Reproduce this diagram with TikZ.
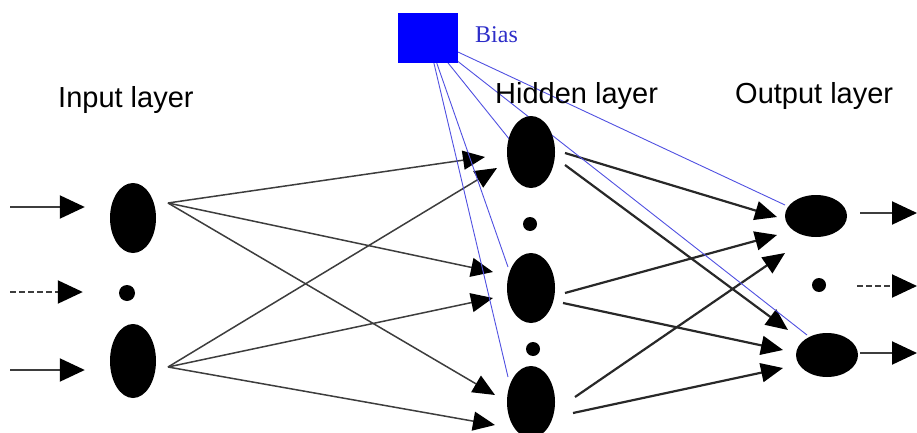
\documentclass[tikz,border=0pt]{standalone}
\usepackage{fontspec}
\setmainfont{Liberation Sans}
\newfontfamily\biasfont{Liberation Serif}
\usetikzlibrary{arrows.meta,shapes.geometric,backgrounds}
\definecolor{BiasBlue}{RGB}{0,0,255}
\definecolor{BiasText}{RGB}{45,45,200}
\definecolor{BiasLine}{RGB}{80,80,225}
\definecolor{LinkGray}{RGB}{40,40,40}

\begin{document}
\begin{tikzpicture}[x=1pt, y=-1pt,
neuron/.style={ellipse, fill=black, inner sep=0pt},
dotnode/.style={circle, fill=black, inner sep=0pt, minimum size=14pt},
layerlabel/.style={anchor=base west, inner sep=0pt, font=\fontsize{29}{34}\selectfont},
link/.style={-{Triangle[length=22pt,width=19pt,black]}, line width=2.2pt, draw=LinkGray},
thinlink/.style={link, line width=1.5pt, draw=LinkGray!90},
ioarr/.style={-{Triangle[length=25pt,width=23pt,black]}, line width=2pt, draw=LinkGray!90},
biasline/.style={draw=BiasLine, line width=0.9pt}
]
\useasboundingbox (0,0) rectangle (917,433);

\node[neuron, minimum width=46pt, minimum height=70pt] (in1) at (133,218) {};
\node[dotnode, minimum size=16pt] (indot) at (127,293) {};
\node[neuron, minimum width=46pt, minimum height=74pt] (in2) at (133,361) {};

\node[neuron, minimum width=48pt, minimum height=72pt] (h1) at (531,152) {};
\node[dotnode] (hdot1) at (530,224) {};
\node[neuron, minimum width=48pt, minimum height=70pt] (h2) at (531,288) {};
\node[dotnode] (hdot2) at (533,349) {};
\node[neuron, minimum width=48pt, minimum height=72pt] (h3) at (531,402) {};

\node[neuron, minimum width=62pt, minimum height=42pt] (o1) at (816,216) {};
\node[dotnode] (odot) at (819,285) {};
\node[neuron, minimum width=62pt, minimum height=44pt] (o2) at (827,355) {};

\node[fill=BiasBlue, minimum width=60pt, minimum height=50pt, inner sep=0pt] (bias) at (428,38) {};
\node[anchor=base west, inner sep=0pt, text=BiasText, font=\biasfont\fontsize{24}{28}\selectfont] (biaslabel) at (475,43) {Bias};

\node[layerlabel] (inlabel) at (58,108) {Input layer};
\node[layerlabel] (hidlabel) at (495,103) {Hidden layer};
\node[layerlabel] (outlabel) at (735,103) {Output layer};

\coordinate (x1) at (10,207);
\coordinate (x2) at (10,292);
\coordinate (x3) at (10,370);
\coordinate (y1) at (917,213);
\coordinate (y2) at (917,286);
\coordinate (y3) at (917,353);

\begin{scope}[on background layer]
\draw[ioarr, shorten >=25pt] (x1) -- (x1 -| in1.west);
\draw[ioarr, dashed, dash pattern=on 6pt off 3pt, shorten >=36pt] (x2) -- (x2 -| indot.west);
\draw[ioarr, shorten >=25pt] (x3) -- (x3 -| in2.west);

\draw[thinlink] ([xshift=35pt,yshift=15pt]in1.center) -- ([xshift=-46pt,yshift=-5pt]h1.center);
\draw[thinlink] ([xshift=35pt,yshift=15pt]in1.center) -- ([xshift=-38pt,yshift=16pt]h2.center);
\draw[thinlink] ([xshift=35pt,yshift=15pt]in1.center) -- ([xshift=-36pt,yshift=7pt]h3.center);
\draw[thinlink] ([xshift=35pt,yshift=-6pt]in2.center) -- ([xshift=-34pt,yshift=-16pt]h1.center);
\draw[thinlink] ([xshift=35pt,yshift=-6pt]in2.center) -- ([xshift=-38pt,yshift=-10pt]h2.center);
\draw[thinlink] ([xshift=35pt,yshift=-6pt]in2.center) -- ([xshift=-36pt,yshift=-23pt]h3.center);

\draw[link] ([xshift=34pt,yshift=-1pt]h1.center) -- ([xshift=-39pt,yshift=-1pt]o1.center);
\draw[link] ([xshift=34pt,yshift=-13pt]h1.center) -- ([xshift=-39pt,yshift=25pt]o2.center);
\draw[link] ([xshift=34pt,yshift=-5pt]h2.center) -- ([xshift=-39pt,yshift=-19pt]o1.center);
\draw[link] ([xshift=32pt,yshift=-15pt]h2.center) -- ([xshift=-44pt,yshift=5pt]o2.center);
\draw[link] ([xshift=44pt,yshift=5pt]h3.center) -- ([xshift=-31pt,yshift=-37pt]o1.center);
\draw[link] ([xshift=42pt,yshift=-11pt]h3.center) -- ([xshift=-44pt,yshift=-13pt]o2.center);

\draw[ioarr, shorten <=13pt] (y1 -| o1.east) -- (y1);
\draw[ioarr, dashed, dash pattern=on 6pt off 3pt, shorten <=31pt] (y2 -| odot.east) -- (y2);
\draw[ioarr, shorten <=2pt] (y3 -| o2.east) -- (y3);

\draw[biasline] (bias.center) -- ([xshift=-21pt,yshift=12pt]h1.center);
\draw[biasline] (bias.center) -- ([xshift=-23pt,yshift=21pt]h2.center);
\draw[biasline] (bias.center) -- ([xshift=-23pt,yshift=25pt]h3.center);
\draw[biasline] (bias.center) -- ([xshift=-31pt,yshift=11pt]o1.center);
\draw[biasline] (bias.center) -- ([xshift=-20pt,yshift=20pt]o2.center);
\end{scope}
\end{tikzpicture}
\end{document}
